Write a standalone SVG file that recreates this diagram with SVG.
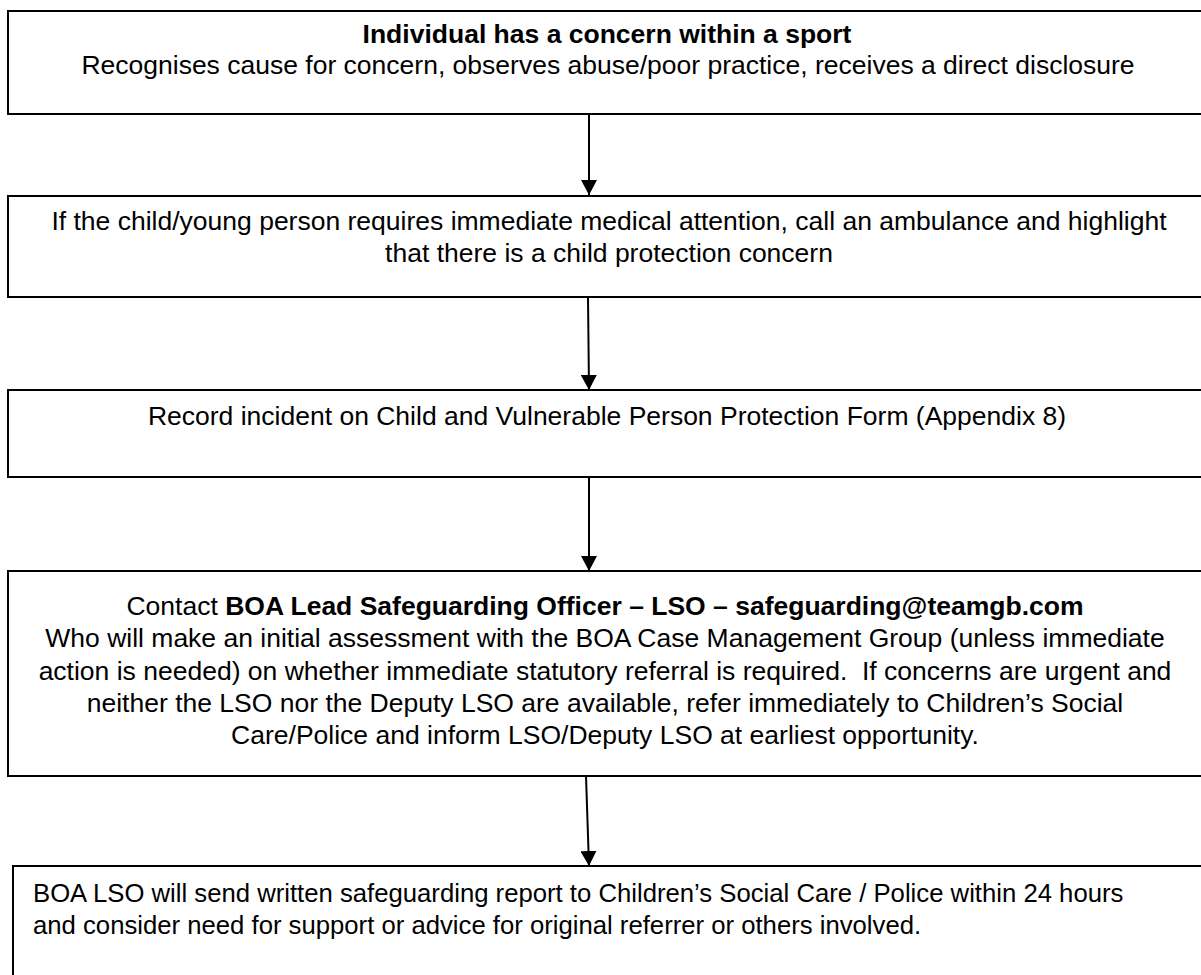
<svg xmlns="http://www.w3.org/2000/svg" width="1201" height="975" viewBox="0 0 1201 975">
<defs>
<marker id="arr" markerWidth="16" markerHeight="16" refX="15" refY="8" orient="auto" markerUnits="userSpaceOnUse">
<path d="M0,0 L15,8 L0,16 Z" fill="#000"/>
</marker>
<style>
.box{fill:#fff;stroke:#000;stroke-width:2}
.t{font-family:"Liberation Sans",Arial,sans-serif;font-size:26.5px;fill:#000}
.l{font-size:25.7px}
.c{text-anchor:middle}
.b{font-weight:bold}
.con{stroke:#000;stroke-width:2;fill:none}
</style>
</defs>
<rect width="1201" height="975" fill="#fff"/>
<g id="n1">
<rect class="box" x="8" y="11" width="1210" height="103"/>
<text class="t c b" x="607" y="43">Individual has a concern within a sport</text>
<text class="t c" x="608" y="74">Recognises cause for concern, observes abuse/poor practice, receives a direct disclosure</text>
</g>
<g id="n2">
<rect class="box" x="8" y="196" width="1210" height="101"/>
<text class="t c" x="609" y="230">If the child/young person requires immediate medical attention, call an ambulance and highlight</text>
<text class="t c" x="609" y="262">that there is a child protection concern</text>
</g>
<g id="n3">
<rect class="box" x="8" y="390" width="1210" height="87"/>
<text class="t c" x="607" y="425">Record incident on Child and Vulnerable Person Protection Form (Appendix 8)</text>
</g>
<g id="n4">
<rect class="box" x="8" y="571" width="1210" height="205"/>
<text class="t c" x="605" y="615">Contact <tspan class="b">BOA Lead Safeguarding Officer – LSO – safeguarding@teamgb.com</tspan></text>
<text class="t c" x="605" y="647">Who will make an initial assessment with the BOA Case Management Group (unless immediate</text>
<text class="t c" x="605" y="680">action is needed) on whether immediate statutory referral is required.&#160; If concerns are urgent and</text>
<text class="t c" x="605" y="712">neither the LSO nor the Deputy LSO are available, refer immediately to Children’s Social</text>
<text class="t c" x="605" y="744">Care/Police and inform LSO/Deputy LSO at earliest opportunity.</text>
</g>
<g id="n5">
<rect class="box" x="13" y="866" width="1210" height="130"/>
<text class="t l" x="33" y="902">BOA LSO will send written safeguarding report to Children’s Social Care / Police within 24 hours</text>
<text class="t l" x="33" y="934">and consider need for support or advice for original referrer or others involved.</text>
</g>
<g id="connectors">
<line class="con" x1="589" y1="114" x2="589" y2="195" marker-end="url(#arr)"/>
<line class="con" x1="588" y1="297" x2="589" y2="390" marker-end="url(#arr)"/>
<line class="con" x1="589" y1="477" x2="589" y2="571" marker-end="url(#arr)"/>
<line class="con" x1="586" y1="776" x2="589" y2="866" marker-end="url(#arr)"/>
</g>
</svg>
